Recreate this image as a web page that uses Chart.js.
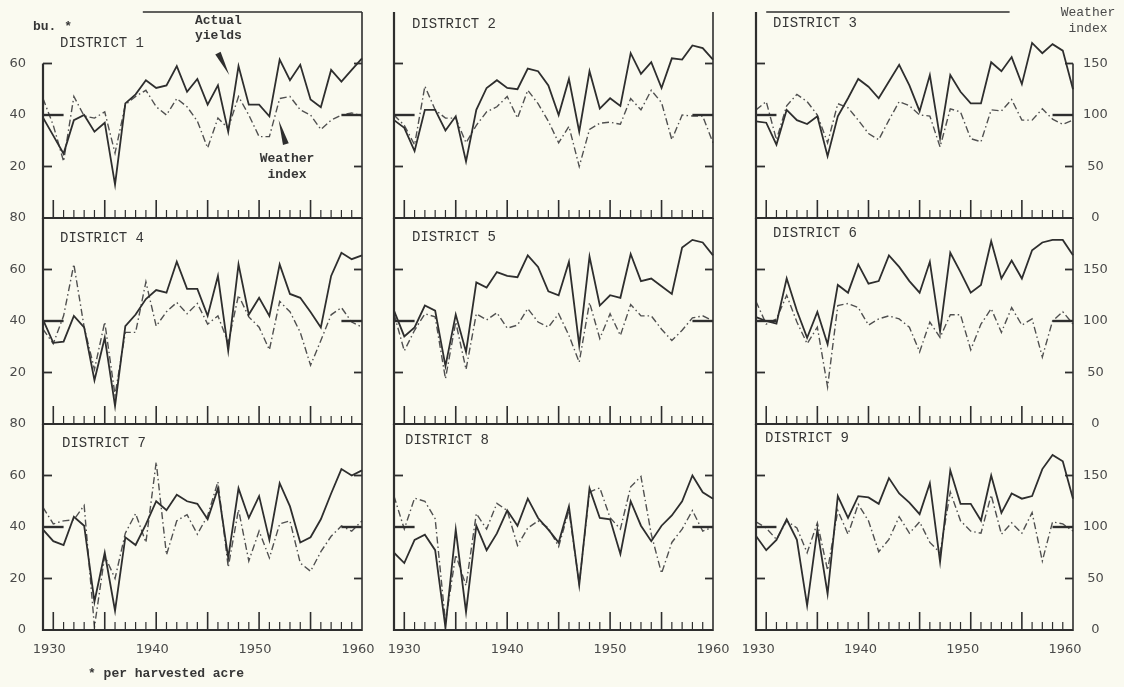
<!DOCTYPE html>
<html>
<head>
<meta charset="utf-8">
<script src="https://cdn.jsdelivr.net/npm/chart.js@4.4.1/dist/chart.umd.min.js"></script>
<style>
  html, body { margin: 0; padding: 0; background: #fafaf0; }
  #page { position: relative; width: 1124px; height: 687px; overflow: hidden; background: #fafaf0;
          font-family: "Liberation Mono", "DejaVu Sans Mono", monospace; color: #363636; }
  .box { position: absolute; }
  .txt { position: absolute; font-size: 14px; line-height: 16px; white-space: pre; }
  .bold { font-weight: bold; font-size: 13px; }
</style>
</head>
<body>
<div id="page"></div>
<script>
// Wheat yields vs weather index, nine districts, 1929-1960
// Yields in bu. per harvested acre (left scale), weather index on right scale (100 = 40 bu.)

var years = [1929, 1930, 1931, 1932, 1933, 1934, 1935, 1936, 1937, 1938, 1939, 1940,
             1941, 1942, 1943, 1944, 1945, 1946, 1947, 1948, 1949, 1950, 1951, 1952,
             1953, 1954, 1955, 1956, 1957, 1958, 1959, 1960];
var yearLabels = [1930, 1940, 1950, 1960];

var yields1 = [39, 32, 25, 38, 40, 33.5, 37, 13, 44.5, 48, 53.5, 50.5, 51.5, 59, 49, 54, 44, 51.5, 33.5, 59, 44, 44, 39.5, 61.5, 53.5, 59.5, 46, 43, 57.5, 53, 57.5, 62];
var weather1 = [116, 90, 55, 118, 99, 97, 103, 63, 110, 118, 124, 108, 100, 116, 108, 94, 68, 97, 87, 118, 100, 79, 79, 116, 118, 105, 100, 86, 95, 100, 102, 99];

var yields2 = [38, 35, 26, 42, 42, 34, 39.5, 22, 42, 50.5, 53.5, 50.5, 50, 58, 57, 51.5, 40, 54, 33.5, 57, 42.5, 46.5, 43.5, 64, 56, 60.5, 50.5, 62, 61.5, 67, 66, 61.5];
var weather2 = [100, 90, 71, 128, 105, 97, 97, 73, 90, 103, 108, 118, 97, 124, 111, 94, 73, 89, 50, 86, 92, 93, 91, 116, 105, 124, 112, 76, 100, 99, 99, 73];

var yields3 = [37.5, 37, 28.5, 42, 38, 36.5, 39.5, 24, 39.5, 46.5, 54, 51, 46.5, 53, 59.5, 51.5, 41.5, 55.5, 31, 55.5, 49, 44.5, 44.5, 60.5, 57, 62.5, 52, 68, 64, 67.5, 65, 50];
var weather3 = [105, 113, 76, 109, 120, 113, 100, 73, 111, 107, 95, 82, 76, 95, 113, 109, 100, 99, 69, 106, 103, 77, 74, 105, 104, 115, 95, 95, 106, 96, 91, 95];

var yields4 = [40.5, 31.5, 32, 42, 37.5, 17, 33.5, 7, 38, 42.5, 48.5, 52, 51, 63, 52.5, 52.5, 42, 57.5, 28.5, 62, 42.5, 49, 42, 62, 50.5, 49, 43.5, 37.5, 57.5, 66.5, 64, 65.5];
var weather4 = [92, 78, 105, 155, 94, 53, 99, 28, 89, 89, 138, 95, 109, 118, 107, 117, 97, 105, 79, 125, 104, 94, 72, 119, 109, 89, 57, 81, 106, 113, 99, 94];

var yields5 = [44, 34, 37.5, 46, 44, 22.5, 42.5, 28, 55, 53, 59, 57.5, 57, 65.5, 61, 51.5, 50, 63, 30.5, 65, 46, 50, 49, 66, 55.5, 56.5, 53.5, 50.5, 68.5, 71.5, 70.5, 65.5];
var weather5 = [107, 71, 91, 107, 104, 44, 99, 53, 107, 101, 108, 93, 96, 112, 99, 94, 107, 86, 60, 118, 83, 107, 86, 116, 105, 105, 92, 81, 91, 103, 105, 100];

var yields6 = [41.5, 40, 39, 56.5, 44, 33.5, 43.5, 31, 54, 51, 62, 54.5, 55.5, 65.5, 61, 55.5, 51, 63, 36, 66.5, 59, 51, 54, 71, 56.5, 63.5, 56.5, 67.5, 70.5, 71.5, 71.5, 65.5];
var weather6 = [119, 97, 102, 125, 99, 78, 94, 36, 115, 117, 113, 96, 102, 105, 102, 94, 70, 99, 84, 106, 106, 72, 97, 112, 89, 113, 96, 102, 65, 100, 109, 97];

var yields7 = [39, 34.5, 33, 44, 40.5, 11, 30, 7.5, 36, 33, 41, 50, 46.5, 52.5, 50, 49, 43, 55, 28, 55, 43.5, 52, 35, 57, 48, 34, 36, 43, 53, 62.5, 60, 62];
var weather7 = [119, 103, 106, 107, 121, 3, 72, 50, 94, 113, 85, 163, 73, 106, 112, 93, 111, 144, 61, 117, 67, 96, 70, 103, 106, 65, 57, 76, 91, 101, 96, 106];

var yields8 = [30, 26, 35, 37, 31, 1, 39, 7, 40.5, 31, 37.5, 46.5, 40.5, 51, 43.5, 39, 34, 48, 17.5, 55, 43.5, 43, 29.5, 50, 40.5, 34.5, 40.5, 44.5, 50, 60, 53.5, 51];
var weather8 = [130, 98, 128, 125, 108, 8, 73, 43, 113, 98, 123, 116, 82, 99, 106, 99, 81, 116, 45, 134, 138, 109, 98, 139, 149, 93, 55, 85, 98, 116, 96, 100];

var yields9 = [36.5, 31, 35, 43, 35, 9.5, 39, 14, 52, 43.5, 52, 51.5, 49, 59, 53, 49.5, 45, 57, 26.5, 62, 49, 49, 42.5, 60, 45.5, 53, 51, 52, 62.5, 68, 65.5, 51];
var weather9 = [105, 99, 88, 106, 99, 75, 104, 58, 116, 93, 122, 106, 76, 88, 110, 94, 105, 85, 75, 134, 106, 96, 94, 131, 93, 104, 94, 114, 67, 105, 103, 96];

// tick values
var yieldTicks = [20, 40, 60];
var baseYield = 40;
var leftLabels = [[20, 40, 60], [20, 40, 60, 80], [0, 20, 40, 60, 80]];
var rightLabels = [0, 50, 100, 150];

// layout of the 3x3 grid (pixels)
var colLeft = [43, 394, 756];
var colRight = [362, 713, 1073];
var rowTop = [12, 218, 424];
var rowHeight = 206;
var yearLabelShift = [-4, 0, -8];

var panels = [
  { name: "DISTRICT 1", yields: yields1, weather: weather1, leftTop: 60, rightTop: 80, topLine: [1938.7, 1960], lx: 60, ly: 43,
    arrows: [{ from: [1946.0, 64], to: [1947.1, 55.5] }, { from: [1952.6, 28.7], to: [1951.9, 38.1] }] },
  { name: "DISTRICT 2", yields: yields2, weather: weather2, leftTop: 80, rightTop: 80, topLine: null, lx: 412, ly: 24 },
  { name: "DISTRICT 3", yields: yields3, weather: weather3, leftTop: 80, rightTop: 60, topLine: [1930, 1953.8], lx: 773, ly: 23 },
  { name: "DISTRICT 4", yields: yields4, weather: weather4, leftTop: 80, rightTop: 80, topLine: null, lx: 60, ly: 238 },
  { name: "DISTRICT 5", yields: yields5, weather: weather5, leftTop: 80, rightTop: 80, topLine: null, lx: 412, ly: 237 },
  { name: "DISTRICT 6", yields: yields6, weather: weather6, leftTop: 80, rightTop: 80, topLine: null, lx: 773, ly: 233 },
  { name: "DISTRICT 7", yields: yields7, weather: weather7, leftTop: 80, rightTop: 80, topLine: null, lx: 62, ly: 443 },
  { name: "DISTRICT 8", yields: yields8, weather: weather8, leftTop: 80, rightTop: 80, topLine: null, lx: 405, ly: 440 },
  { name: "DISTRICT 9", yields: yields9, weather: weather9, leftTop: 80, rightTop: 80, topLine: null, lx: 765, ly: 438 }
];

var ink = "#2e2e2e";
var tickFont = { family: "DejaVu Sans", size: 13 };
var tickColor = "#4a4a4a";

// frame, inner ticks, base marks and pointer wedges
var framePlugin = {
  id: "frame",
  afterDraw: function (chart) {
    var o = chart.options.plugins.frame;
    var ctx = chart.ctx;
    var a = chart.chartArea;
    var xs = chart.scales.x;
    var ys = chart.scales.y;
    function px(yr) { return xs.getPixelForValue(yr - years[0]); }
    function seg(x0, y0, x1, y1, w) {
      ctx.lineWidth = w;
      ctx.beginPath();
      ctx.moveTo(x0, y0);
      ctx.lineTo(x1, y1);
      ctx.stroke();
    }
    ctx.save();
    ctx.strokeStyle = ink;
    ctx.fillStyle = ink;
    seg(a.left, ys.getPixelForValue(o.leftTop), a.left, a.bottom + 1, 2.2);
    seg(a.right, ys.getPixelForValue(o.rightTop), a.right, a.bottom + 1, 1.6);
    seg(a.left, a.bottom, a.right, a.bottom, 2);
    if (o.topLine) {
      seg(px(o.topLine[0]), a.top, px(o.topLine[1]), a.top, 1.6);
    }
    years.forEach(function (yr) {
      if (yr === years[0] || yr === years[years.length - 1]) return;
      var major = yr % 5 === 0;
      seg(px(yr), a.bottom, px(yr), a.bottom - (major ? 18 : 8), major ? 1.6 : 1.2);
    });
    yieldTicks.forEach(function (v) {
      var y = ys.getPixelForValue(v);
      if (v === baseYield) {
        seg(a.left, y, px(1931), y, 2.4);
        seg(px(1958), y, a.right, y, 2.4);
      } else {
        seg(a.left, y, a.left + 9, y, 1.8);
        seg(a.right - 8, y, a.right, y, 1.8);
      }
    });
    (o.arrows || []).forEach(function (ar) {
      var x0 = px(ar.from[0]), y0 = ys.getPixelForValue(ar.from[1]);
      var x1 = px(ar.to[0]), y1 = ys.getPixelForValue(ar.to[1]);
      var dx = x1 - x0, dy = y1 - y0;
      var len = Math.sqrt(dx * dx + dy * dy);
      var nx = -dy / len * 3, ny = dx / len * 3;
      ctx.beginPath();
      ctx.moveTo(x0 + nx, y0 + ny);
      ctx.lineTo(x1, y1);
      ctx.lineTo(x0 - nx, y0 - ny);
      ctx.closePath();
      ctx.fill();
    });
    ctx.restore();
  }
};

var page = document.getElementById("page");

// invisible tick marks give the label offset without padding the chart area
function spacer(len) {
  return { display: true, drawOnChartArea: false, drawTicks: true, tickLength: len, color: "rgba(0,0,0,0)" };
}

function makePanel(p, idx) {
  var col = idx % 3;
  var row = Math.floor(idx / 3);
  var padL = 40, padR = 46, padT = 10;
  var padB = row === 2 ? 40 : 12;
  var L = colLeft[col], R = colRight[col], T = rowTop[row];
  var w = R - L + padL + padR;
  var h = rowHeight + padT + padB;

  var box = document.createElement("div");
  box.className = "box";
  box.style.left = (L - padL) + "px";
  box.style.top = (T - padT) + "px";
  box.style.width = w + "px";
  box.style.height = h + "px";
  var canvas = document.createElement("canvas");
  canvas.width = w;
  canvas.height = h;
  box.appendChild(canvas);
  page.appendChild(box);

  new Chart(canvas, {
    type: "line",
    data: {
      labels: years,
      datasets: [
        {
          label: "Actual yields",
          data: p.yields,
          yAxisID: "y",
          borderColor: ink,
          borderWidth: 1.8,
          pointRadius: 0,
          tension: 0,
          fill: false
        },
        {
          label: "Weather index",
          data: p.weather,
          yAxisID: "y2",
          borderColor: "#505050",
          borderWidth: 1.4,
          borderDash: [7, 3, 1.5, 3],
          pointRadius: 0,
          tension: 0,
          fill: false
        }
      ]
    },
    options: {
      responsive: false,
      animation: false,
      events: [],
      layout: { padding: { top: padT, left: 0, right: 0, bottom: 0 } },
      plugins: {
        legend: { display: false },
        tooltip: { enabled: false },
        frame: { leftTop: p.leftTop, rightTop: p.rightTop, topLine: p.topLine, arrows: p.arrows }
      },
      scales: {
        x: {
          type: "category",
          offset: false,
          grid: spacer(12),
          border: { display: false },
          ticks: {
            display: row === 2,
            autoSkip: false,
            maxRotation: 0,
            padding: 0,
            labelOffset: yearLabelShift[col],
            font: tickFont,
            color: tickColor,
            callback: function (v, i) {
              return yearLabels.indexOf(years[i]) >= 0 ? String(years[i]) : "";
            }
          },
          afterFit: function (s) { s.height = padB; }
        },
        y: {
          position: "left",
          min: 0,
          max: 80,
          grid: spacer(17),
          border: { display: false },
          ticks: {
            display: col === 0,
            stepSize: 20,
            padding: 0,
            font: tickFont,
            color: tickColor,
            callback: function (v) {
              return leftLabels[row].indexOf(v) >= 0 ? String(v) : "";
            }
          },
          afterFit: function (s) { s.width = padL; }
        },
        y2: {
          position: "right",
          min: 0,
          max: 200,
          grid: spacer(10),
          border: { display: false },
          ticks: {
            display: col === 2,
            stepSize: 50,
            padding: 0,
            crossAlign: "center",
            font: tickFont,
            color: tickColor,
            callback: function (v) {
              return rightLabels.indexOf(v) >= 0 ? String(v) : "";
            }
          },
          afterFit: function (s) { s.width = padR; }
        }
      }
    },
    plugins: [framePlugin]
  });
}

panels.forEach(makePanel);

function addText(str, left, top, cls, extra) {
  var d = document.createElement("div");
  d.className = "txt" + (cls ? " " + cls : "");
  d.textContent = str;
  d.style.left = left + "px";
  d.style.top = top + "px";
  if (extra) {
    Object.keys(extra).forEach(function (k) { d.style[k] = extra[k]; });
  }
  page.appendChild(d);
}

panels.forEach(function (p) {
  addText(p.name, p.lx, p.ly - 8);
});
addText("bu. *", 33, 19, "bold");
addText("Actual\nyields", 195, 13, "bold", { lineHeight: "15px" });
addText("Weather\nindex", 256, 151, "bold", { width: "62px", textAlign: "center" });
addText("Weather\nindex", 1050, 5, "", { width: "76px", textAlign: "center", color: "#4a4a4a", fontSize: "13px" });
addText("* per harvested acre", 88, 666, "bold");
</script>
</body>
</html>
